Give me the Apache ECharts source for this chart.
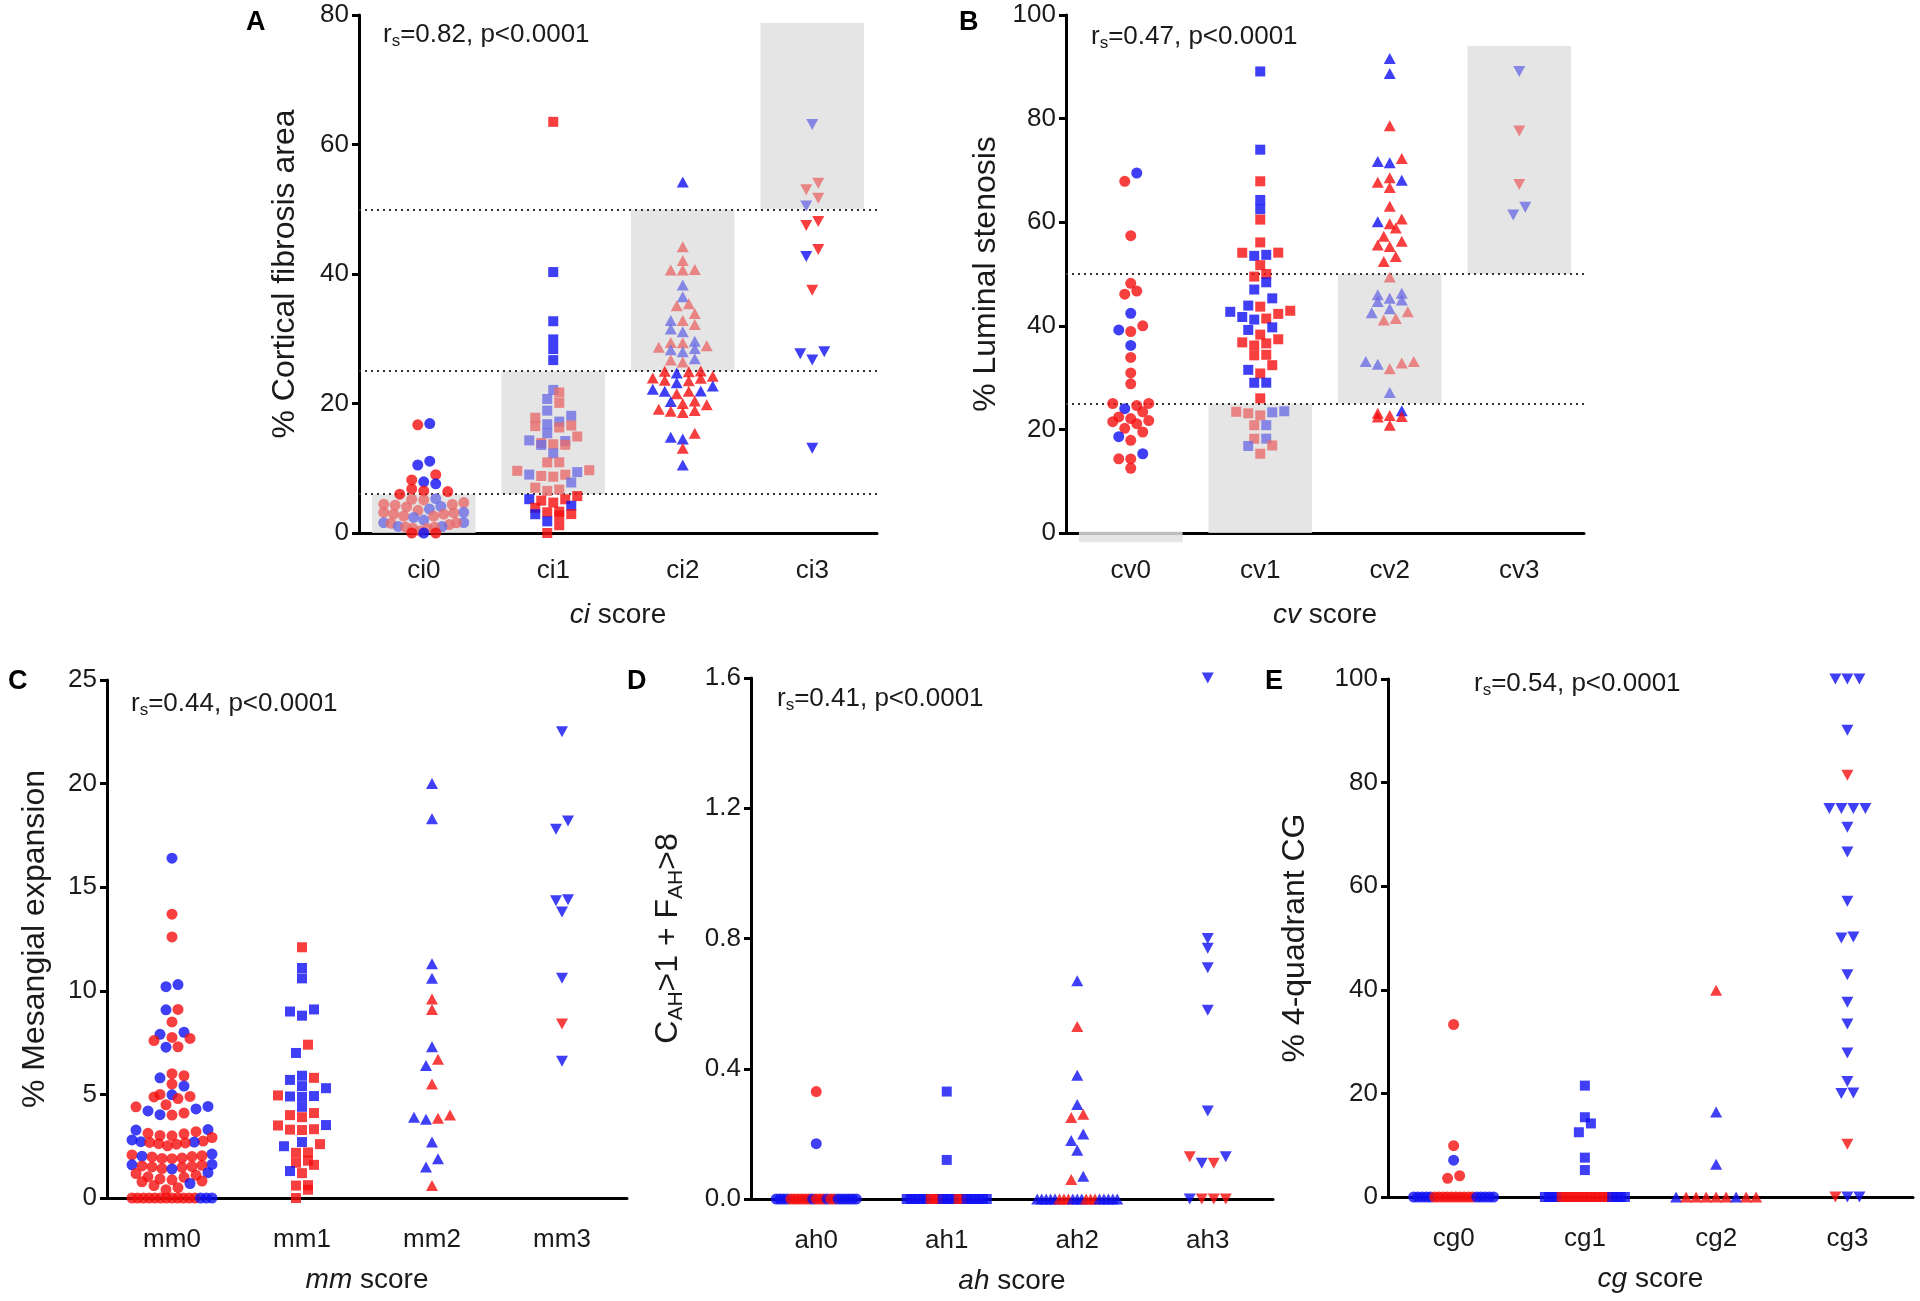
<!DOCTYPE html>
<html><head><meta charset="utf-8">
<script src="https://cdn.jsdelivr.net/npm/echarts@6/dist/echarts.min.js"></script>
<style>html,body{margin:0;padding:0;background:#fff}#c{width:1920px;height:1301px}</style>
</head><body><div id="c"></div>
<script>
// ---------------- DATA ----------------
// colour codes: r = red, b = blue, lr = light red, lb = light blue
const ciCats = ['ci0','ci1','ci2','ci3'];
const cvCats = ['cv0','cv1','cv2','cv3'];
const mmCats = ['mm0','mm1','mm2','mm3'];
const ahCats = ['ah0','ah1','ah2','ah3'];
const cgCats = ['cg0','cg1','cg2','cg3'];

const ciLines = [6,25,50];
const ciBands = [[0,6],[6,25],[25,50],[50,78.8]];
const cvLines = [25,50];
const cvBands = [[-1.8,0.3],[0,25],[25,50],[50,94]];

const rsValues = ['0.82','0.47','0.44','0.41','0.54'];

const ci0 = [[16.7,'r'],[16.9,'b'],[11.1,'b'],[10.5,'b'],[9.0,'r'],[8.2,'r'],[7.9,'b'],[7.6,'b'],[6.8,'r'],[6.5,'r'],[6.4,'r'],[6.0,'r'],[5.3,'lb'],[5.2,'lr'],[5.1,'lr'],[4.7,'lr'],[4.45,'lr'],[4.4,'lr'],[4.3,'lr'],[4.1,'lb'],[4.05,'lr'],[3.7,'lb'],[3.5,'lr'],[3.2,'lb'],[3.18,'lr'],[3.1,'lr'],[2.92,'lr'],[2.9,'lr'],[2.62,'lr'],[2.6,'lr'],[2.4,'lb'],[2.0,'lb'],[1.62,'lb'],[1.6,'lb'],[1.58,'lr'],[1.5,'lr'],[1.3,'lr'],[1.02,'lb'],[1.0,'lb'],[0.92,'lr'],[0.9,'lr'],[0.72,'lr'],[0.7,'lr'],[0.3,'lr'],[0,'r'],[0,'b'],[0,'r']];
const ci1 = [[63.5,'r'],[40.3,'b'],[32.7,'b'],[29.9,'b'],[28.4,'b'],[26.7,'b'],[22.1,'lb'],[21.7,'lr'],[20.7,'lb'],[20.1,'lr'],[18.9,'lb'],[18.1,'lb'],[17.8,'lr'],[17.2,'lb'],[16.8,'lb'],[16.6,'lr'],[16.5,'lr'],[16.3,'lr'],[15.4,'lb'],[14.9,'lr'],[14.3,'lb'],[14.2,'lb'],[13.9,'lr'],[13.7,'lr'],[13.62,'lr'],[13.6,'lb'],[12.3,'lb'],[10.92,'lr'],[10.9,'lr'],[9.7,'lr'],[9.6,'lr'],[9.4,'lb'],[9.02,'lb'],[9.0,'lr'],[8.8,'lr'],[8.7,'lr'],[7.8,'lb'],[7.0,'lr'],[6.7,'lr'],[6.5,'lr'],[5.7,'r'],[5.22,'b'],[5.2,'r'],[5.0,'r'],[4.7,'r'],[4.2,'b'],[3.9,'r'],[3.3,'r'],[3.2,'r'],[2.92,'r'],[2.9,'b'],[2.7,'r'],[1.8,'b'],[1.2,'r'],[0,'r']];
const ci2 = [[54.2,'b'],[44.2,'lr'],[42.1,'lr'],[40.7,'lr'],[40.62,'lr'],[40.6,'lr'],[38.3,'lb'],[36.5,'lb'],[35.4,'lr'],[35.1,'lr'],[33.9,'lr'],[32.82,'lb'],[32.8,'lr'],[32.2,'lr'],[31.5,'lb'],[31.1,'lb'],[29.6,'lb'],[29.42,'lr'],[29.4,'lr'],[28.9,'lr'],[28.7,'lr'],[28.5,'lb'],[28.3,'lb'],[28.0,'lb'],[26.9,'lb'],[26.7,'lr'],[26.4,'lr'],[25.02,'r'],[25.0,'r'],[24.9,'r'],[24.7,'b'],[24.2,'r'],[23.92,'r'],[23.9,'r'],[23.6,'r'],[23.5,'r'],[23.2,'b'],[22.7,'b'],[22.2,'b'],[21.92,'b'],[21.9,'b'],[21.88,'r'],[21.5,'r'],[20.4,'r'],[20.3,'b'],[20.0,'r'],[19.8,'r'],[19.1,'r'],[18.9,'r'],[18.8,'r'],[18.6,'r'],[15.4,'r'],[14.8,'b'],[14.5,'b'],[13.1,'r'],[10.5,'b']];
const ci3 = [[63.1,'lb'],[54.0,'lr'],[53.0,'lr'],[51.7,'lr'],[50.5,'lb'],[48.1,'r'],[47.5,'r'],[43.8,'r'],[42.7,'b'],[37.5,'r'],[28.0,'b'],[27.7,'b'],[26.7,'b'],[13.1,'b']];

const cv0 = [[69.5,'b'],[67.9,'r'],[57.4,'r'],[48.2,'r'],[46.7,'r'],[46.1,'r'],[42.4,'b'],[40.0,'r'],[39.2,'b'],[38.9,'r'],[36.2,'b'],[33.9,'r'],[30.9,'r'],[28.8,'r'],[25.02,'r'],[25.0,'r'],[24.6,'r'],[24.0,'b'],[23.4,'r'],[22.4,'r'],[22.1,'r'],[21.7,'r'],[21.5,'r'],[21.1,'r'],[20.2,'r'],[19.5,'r'],[18.6,'b'],[17.9,'r'],[15.3,'b'],[14.32,'r'],[14.3,'r'],[12.5,'r']];
const cv1 = [[89.1,'b'],[74.0,'b'],[67.9,'r'],[64.3,'b'],[62.5,'b'],[60.5,'r'],[56.1,'r'],[54.12,'r'],[54.1,'r'],[53.7,'b'],[53.5,'b'],[51.7,'r'],[50.0,'r'],[49.5,'r'],[48.4,'b'],[47.0,'b'],[45.3,'b'],[43.9,'b'],[43.7,'r'],[42.9,'r'],[42.7,'b'],[42.3,'r'],[41.7,'b'],[41.4,'r'],[41.2,'b'],[39.7,'b'],[39.2,'b'],[38.3,'r'],[37.4,'r'],[36.8,'r'],[36.6,'r'],[36.2,'r'],[34.4,'r'],[34.3,'r'],[32.4,'r'],[31.5,'b'],[30.8,'r'],[29.02,'b'],[29.0,'b'],[26.0,'r'],[23.5,'lb'],[23.4,'lr'],[23.3,'lb'],[23.1,'lr'],[22.7,'lr'],[20.82,'lb'],[20.8,'lr'],[18.22,'lb'],[18.2,'lr'],[16.9,'lr'],[16.8,'lb'],[15.3,'lr']];
const cv2 = [[91.6,'b'],[88.7,'b'],[78.6,'r'],[72.3,'r'],[71.7,'b'],[71.5,'b'],[68.6,'r'],[68.1,'b'],[67.7,'r'],[66.7,'r'],[63.1,'r'],[60.6,'r'],[60.1,'b'],[59.7,'r'],[58.9,'r'],[57.3,'r'],[56.3,'r'],[55.6,'r'],[55.3,'r'],[53.4,'r'],[52.4,'r'],[49.4,'lr'],[46.3,'lb'],[46.0,'lb'],[45.3,'lb'],[45.0,'lb'],[44.7,'lb'],[43.3,'lb'],[42.7,'lr'],[42.5,'lb'],[41.4,'lr'],[41.1,'lr'],[33.12,'lr'],[33.1,'lb'],[32.8,'lr'],[32.6,'lb'],[31.7,'lr'],[27.1,'lb'],[23.6,'b'],[23.1,'r'],[22.7,'r'],[22.5,'r'],[22.4,'r'],[20.8,'r']];
const cv3 = [[89.1,'lb'],[77.6,'lr'],[67.3,'lr'],[62.9,'lb'],[61.4,'lb']];

const mm0 = [[16.4,'b'],[13.7,'r'],[12.6,'r'],[10.3,'b'],[10.2,'b'],[9.1,'r'],[9.08,'b'],[8.5,'r'],[8.0,'b'],[7.9,'b'],[7.75,'r'],[7.7,'r'],[7.6,'r'],[7.3,'r'],[7.28,'b'],
 [6.0,'r'],[5.9,'r'],[5.8,'b'],[5.5,'r'],[5.4,'b'],[5.0,'r'],[4.98,'b'],[4.9,'r'],[4.88,'r'],[4.8,'r'],
 [4.5,'r'],[4.42,'b'],[4.4,'r'],[4.3,'b'],[4.2,'b'],[4.1,'r'],[4.02,'b'],[4.0,'r'],
 [3.3,'b'],[3.28,'b'],[3.2,'r'],[3.12,'r'],[3.1,'r'],[3.02,'r'],[3.0,'r'],[2.92,'r'],
 [2.8,'b'],[2.75,'r'],[2.72,'b'],[2.7,'b'],[2.68,'r'],[2.66,'r'],[2.62,'r'],[2.6,'r'],[2.52,'r'],
 [2.12,'b'],[2.08,'r'],[2.04,'r'],[2.02,'b'],[2.0,'r'],[1.98,'r'],[1.93,'r'],[1.91,'r'],[1.9,'r'],
 [1.62,'b'],[1.6,'b'],[1.58,'r'],[1.55,'r'],[1.52,'r'],[1.5,'r'],[1.48,'r'],[1.42,'r'],[1.4,'b'],
 [1.22,'b'],[1.18,'r'],[1.1,'r'],[1.02,'r'],[1.0,'r'],[0.92,'r'],[0.88,'r'],[0.82,'r'],[0.78,'r'],[0.7,'b'],
 [0.6,'r'],[0.5,'r'],[0.4,'r'],
 [0,'r'],[0,'r'],[0,'r'],[0,'r'],[0,'r'],[0,'r'],[0,'r'],[0,'r'],[0,'r'],[0,'r'],[0,'r'],[0,'r'],[0,'b'],[0,'b'],[0,'b']];
const mm1 = [[12.1,'r'],[11.1,'b'],[10.6,'b'],[9.1,'b'],[9.0,'b'],[8.8,'b'],[7.4,'r'],[7.0,'b'],[5.9,'b'],[5.8,'r'],[5.7,'b'],[5.4,'b'],[5.3,'b'],[4.95,'r'],[4.92,'b'],[4.9,'b'],[4.88,'b'],[4.4,'b'],[4.1,'r'],[4.0,'r'],[3.9,'r'],[3.52,'b'],[3.5,'r'],[3.32,'r'],[3.3,'r'],[3.28,'r'],[2.7,'b'],[2.6,'r'],[2.5,'b'],[2.2,'r'],[2.18,'r'],[1.8,'r'],[1.7,'r'],[1.6,'r'],[1.3,'b'],[1.2,'r'],[0.62,'r'],[0.6,'r'],[0.4,'r'],[0,'r']];
const mm2 = [[20.0,'b'],[18.3,'b'],[11.3,'b'],[10.6,'b'],[9.6,'r'],[9.1,'r'],[7.3,'b'],[6.7,'r'],[6.4,'b'],[5.5,'r'],[4.0,'r'],[3.9,'b'],[3.85,'r'],[3.8,'b'],[2.7,'b'],[1.9,'b'],[1.5,'b'],[0.6,'r']];
const mm3 = [[22.5,'b'],[18.2,'b'],[17.8,'b'],[14.4,'b'],[14.35,'b'],[13.8,'b'],[10.6,'b'],[8.4,'r'],[6.6,'b']];

const ah0 = [[0.33,'r'],[0.17,'b'],
 [0,'b'],[0,'b'],[0,'b'],[0,'b'],[0,'r'],[0,'r'],[0,'r'],[0,'r'],[0,'r'],[0,'r'],[0,'b'],[0,'r'],[0,'r'],[0,'r'],[0,'b'],[0,'r'],[0,'r'],[0,'b'],[0,'b'],[0,'b'],[0,'b'],[0,'b'],[0,'b']];
const ah1 = [[0.33,'b'],[0.12,'b'],
 [0,'b'],[0,'b'],[0,'b'],[0,'b'],[0,'b'],[0,'b'],[0,'r'],[0,'r'],[0,'r'],[0,'b'],[0,'b'],[0,'b'],[0,'b'],[0,'r'],[0,'r'],[0,'b'],[0,'b'],[0,'b'],[0,'b'],[0,'b'],[0,'b']];
const ah2 = [[0.67,'b'],[0.53,'r'],[0.38,'b'],[0.29,'b'],[0.26,'r'],[0.25,'r'],[0.20,'b'],[0.18,'b'],[0.15,'b'],[0.07,'b'],[0.06,'r'],
 [0,'b'],[0,'b'],[0,'b'],[0,'b'],[0,'b'],[0,'r'],[0,'r'],[0,'r'],[0,'b'],[0,'b'],[0,'b'],[0,'r'],[0,'r'],[0,'r'],[0,'b'],[0,'b'],[0,'b'],[0,'b'],[0,'b']];
const ah3 = [[1.60,'b'],[0.80,'b'],[0.77,'b'],[0.71,'b'],[0.58,'b'],[0.27,'b'],[0.13,'r'],[0.11,'b'],[0.11,'r'],[0.13,'b'],[0,'b'],[0,'r'],[0,'r'],[0,'r']];

const cg0 = [[33.3,'r'],[9.9,'r'],[7.1,'b'],[4.1,'r'],[3.6,'r'],
 [0,'b'],[0,'b'],[0,'b'],[0,'b'],[0,'b'],[0,'r'],[0,'r'],[0,'r'],[0,'r'],[0,'r'],[0,'r'],[0,'r'],[0,'r'],[0,'r'],[0,'r'],[0,'b'],[0,'b'],[0,'b'],[0,'b'],[0,'b']];
const cg1 = [[21.5,'b'],[15.4,'b'],[14.2,'b'],[12.5,'b'],[7.6,'b'],[5.2,'b'],
 [0,'b'],[0,'b'],[0,'b'],[0,'b'],[0,'r'],[0,'r'],[0,'r'],[0,'r'],[0,'r'],[0,'r'],[0,'r'],[0,'r'],[0,'r'],[0,'r'],[0,'r'],[0,'r'],[0,'b'],[0,'b'],[0,'b'],[0,'b']];
const cg2 = [[39.9,'r'],[16.4,'b'],[6.3,'b'],[0,'b'],[0,'r'],[0,'r'],[0,'r'],[0,'r'],[0,'r'],[0,'b'],[0,'r'],[0,'r']];
const cg3 = [[100,'b'],[100,'b'],[100,'b'],[90.1,'b'],[81.4,'r'],[75,'b'],[75,'b'],[75,'b'],[75,'b'],[71.4,'b'],[66.6,'b'],[57.1,'b'],[50.2,'b'],[50,'b'],[42.9,'b'],[37.6,'b'],[33.4,'b'],[27.8,'b'],[22.3,'b'],[20.1,'b'],[20.0,'b'],[10.2,'r'],[0,'r'],[0,'b'],[0,'b']];

// ---------------- STYLE / LAYOUT ----------------
const FONT = '"Liberation Sans", Arial, Helvetica, sans-serif';
const TXT = '#1a1a1a';
const BOX = '#e0e0e0';
const COLOR = {r:'#f50f0f', b:'#0f0ff2', lr:'#e86c6c', lb:'#6e6ee4'};
const SYMBOLS = [
  {symbol:'circle', size:11, rot:0},
  {symbol:'rect', size:10, rot:0},
  {symbol:'triangle', size:[12,11], rot:0},
  {symbol:'triangle', size:[12,11], rot:180}
];

const panels = [
  {letter:'A', cats:ciCats, groups:[ci0,ci1,ci2,ci3], ymax:80, yint:20, yname:'% Cortical fibrosis area', xname:'ci', lines:ciLines, bands:ciBands,
   grid:{left:359,top:15,width:518,height:518}, yGap:58, lblMargin:25, xGap:68, letterPos:[246,9], annPos:[383,20]},
  {letter:'B', cats:cvCats, groups:[cv0,cv1,cv2,cv3], ymax:100, yint:20, yname:'% Luminal stenosis', xname:'cv', lines:cvLines, bands:cvBands,
   grid:{left:1066,top:15,width:518,height:518}, yGap:64, lblMargin:25, xGap:68, letterPos:[959,9], annPos:[1091,22]},
  {letter:'C', cats:mmCats, groups:[mm0,mm1,mm2,mm3], ymax:25, yint:5, yname:'% Mesangial expansion', xname:'mm', lines:[], bands:[],
   grid:{left:107,top:680,width:520,height:518}, yGap:56, lblMargin:29, xGap:68, letterPos:[8,668], annPos:[131,689]},
  {letter:'D', cats:ahCats, groups:[ah0,ah1,ah2,ah3], ymax:1.6, yint:0.4, yname:'{m|C}{s|AH}{m|>1 + F}{s|AH}{m|>8}', xname:'ah', lines:[], bands:[],
   grid:{left:751,top:678,width:522,height:521}, yGap:64, lblMargin:29, xGap:68, letterPos:[627,668], annPos:[777,684], fmt:v=>v.toFixed(1)},
  {letter:'E', cats:cgCats, groups:[cg0,cg1,cg2,cg3], ymax:100, yint:20, yname:'% 4-quadrant CG', xname:'cg', lines:[], bands:[],
   grid:{left:1388,top:679,width:525,height:518}, yGap:77, lblMargin:29, xGap:68, letterPos:[1265,668], annPos:[1474,669]}
];

function centerOut(m){
  const seq=[]; let l=Math.floor((m-1)/2), r=l+1;
  if (m%2===1){ seq.push(l); l--; }
  while(seq.length<m){ if(l>=0) seq.push(l--); if(r<m && seq.length<m) seq.push(r++); }
  return seq;
}
// beeswarm horizontal offsets (pixels), computed from the values
function swarm(pts, ppu, binH, gap, maxW){
  const n=pts.length, cnt={};
  pts.forEach(p=>{cnt[p[0]]=(cnt[p[0]]||0)+1;});
  const idx=pts.map((_,i)=>i).sort((a,b)=>(pts[a][0]-pts[b][0])||(a-b));
  const off=new Array(n).fill(0);
  let i=0;
  while(i<n){
    const v0=pts[idx[i]][0]; let j=i+1;
    if(cnt[v0]>=3){ while(j<n && pts[idx[j]][0]===v0) j++; }
    else { while(j<n && (pts[idx[j]][0]-v0)*ppu<binH && cnt[pts[idx[j]][0]]<3) j++; }
    const row=idx.slice(i,j), m=row.length;
    const sp=m>1?Math.min(gap,maxW/(m-1)):0;
    let order;
    if(cnt[v0]>=3) order=row;
    else { const seq=centerOut(m); order=new Array(m); row.forEach((k,r)=>{order[seq[r]]=k;}); }
    order.forEach((k,pos)=>{off[k]=(pos-(m-1)/2)*sp;});
    i=j;
  }
  return off;
}

const option = {animation:false, backgroundColor:'#fff', grid:[], xAxis:[], yAxis:[], series:[], title:[]};
const belowZero = []; // bands that extend below the axis: drawn afterwards via the axis scale
panels.forEach((p,gi)=>{
  option.grid.push(Object.assign({containLabel:false}, p.grid));
  option.xAxis.push({type:'category', gridIndex:gi, data:p.cats, boundaryGap:true,
    axisLine:{onZero:false, lineStyle:{color:'#000',width:3}},
    axisTick:{alignWithLabel:true,length:7,lineStyle:{color:'#000',width:3}},
    axisLabel:{fontSize:26,color:TXT,fontFamily:FONT,margin:p.lblMargin},
    splitLine:{show:false},
    name:'{i|'+p.xname+'} score', nameLocation:'middle', nameGap:p.xGap,
    nameTextStyle:{fontSize:28,color:TXT,fontFamily:FONT,rich:{i:{fontSize:28,fontStyle:'italic',color:TXT,fontFamily:FONT}}}
  });
  option.xAxis.push({type:'value', gridIndex:gi, min:-0.5, max:3.5, show:false, axisLine:{onZero:false}});
  option.yAxis.push({type:'value', gridIndex:gi, min:0, max:p.ymax, interval:p.yint,
    axisLine:{show:true,onZero:false,lineStyle:{color:'#000',width:3}},
    axisTick:{show:true,length:7,lineStyle:{color:'#000',width:3}},
    splitLine:{show:false},
    axisLabel:{fontSize:26,color:TXT,fontFamily:FONT,margin:10,formatter:p.fmt},
    name:p.yname, nameLocation:'middle', nameGap:p.yGap,
    nameTextStyle:{fontSize:32,color:TXT,fontFamily:FONT,
      rich:{m:{fontSize:32,color:TXT,fontFamily:FONT,lineHeight:38},
            s:{fontSize:21,color:TXT,fontFamily:FONT,verticalAlign:'bottom',lineHeight:22}}}
  });
  const xi=2*gi+1;
  if(p.bands.length){
    const normal=[];
    p.bands.forEach((b,i)=>{
      if(b[0]<0) belowZero.push({seriesIndex:option.series.length, i, b});
      else normal.push([{coord:[i-0.4,b[0]]},{coord:[i+0.4,b[1]]}]);
    });
    option.series.push({type:'scatter', xAxisIndex:xi, yAxisIndex:gi, data:[], clip:false, silent:true, z:4,
      markArea:{silent:true, itemStyle:{color:BOX,opacity:0.85}, data:normal}});
  }
  if(p.lines.length) option.series.push({type:'scatter', xAxisIndex:xi, yAxisIndex:gi, data:[], clip:false, silent:true, z:5,
    markLine:{silent:true, symbol:['none','none'], label:{show:false}, lineStyle:{color:'#333',type:[2,4],width:2},
      data:p.lines.map(v=>({yAxis:v}))}});
  const ppu=p.grid.height/p.ymax, band=p.grid.width/4;
  p.groups.forEach((pts,ci)=>{
    const off=swarm(pts,ppu,9,12,80);
    const s=SYMBOLS[ci];
    option.series.push({type:'scatter', xAxisIndex:xi, yAxisIndex:gi, symbol:s.symbol, symbolSize:s.size, symbolRotate:s.rot,
      z:6, clip:false, silent:true,
      data:pts.map((d,k)=>({value:[ci+off[k]/band, d[0]], itemStyle:{color:COLOR[d[1]]}}))});
  });
  option.title.push({text:p.letter, left:p.letterPos[0], top:p.letterPos[1], padding:0,
    textStyle:{fontSize:27,fontWeight:'bold',color:'#000',fontFamily:FONT}});
  option.title.push({text:'{a|r}{s|s}{a|='+rsValues[gi]+', p<0.0001}', left:p.annPos[0], top:p.annPos[1], padding:0,
    textStyle:{fontWeight:'normal', rich:{a:{fontSize:26,fontWeight:'normal',color:TXT,fontFamily:FONT,lineHeight:30},
                     s:{fontSize:17,fontWeight:'normal',color:TXT,fontFamily:FONT,verticalAlign:'bottom',lineHeight:18}}}});
});

const chart = echarts.init(document.getElementById('c'), null, {renderer:'canvas'});
chart.setOption(option);
// the zero-width band of cv0 sits partly below the axis, so place it with the library's own scale
const rects = belowZero.map(o=>{
  const a = chart.convertToPixel({seriesIndex:o.seriesIndex}, [o.i-0.4, o.b[1]]);
  const c = chart.convertToPixel({seriesIndex:o.seriesIndex}, [o.i+0.4, o.b[0]]);
  return {type:'rect', z:100, silent:true, shape:{x:a[0], y:a[1], width:c[0]-a[0], height:c[1]-a[1]}, style:{fill:BOX, opacity:0.85}};
});
chart.setOption({graphic:rects});
</script></body></html>
